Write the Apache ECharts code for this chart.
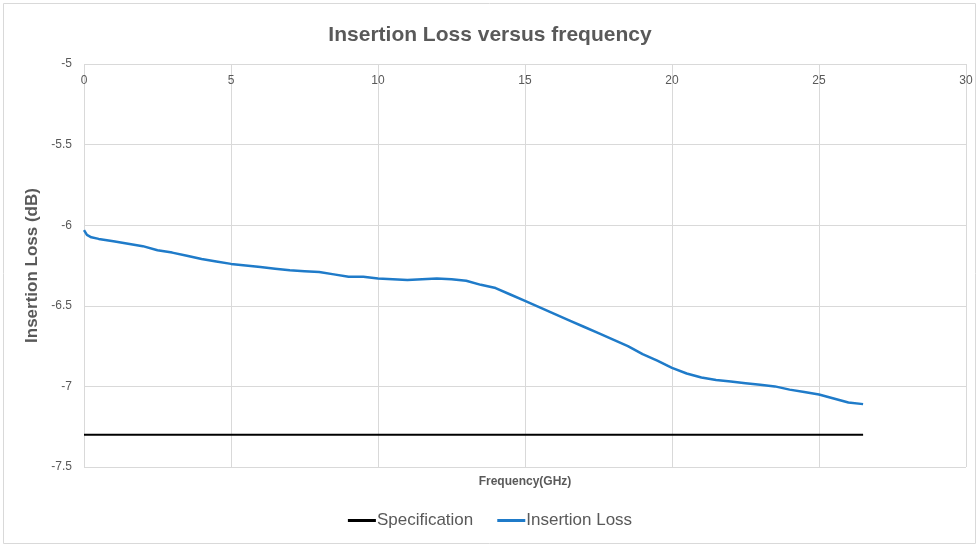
<!DOCTYPE html>
<html>
<head>
<meta charset="utf-8">
<script src="https://cdn.jsdelivr.net/npm/echarts@6/dist/echarts.min.js"></script>
<style>
  html, body { margin: 0; padding: 0; background: #fff; }
  #chart { width: 980px; height: 546px; }
</style>
</head>
<body>
<div id="chart"></div>
<script>
// frequency points (GHz) and measured insertion loss (dB)
var freq = [0, 0.1, 0.25, 0.5, 1, 1.5, 2, 2.5, 3, 3.5, 4, 4.5, 5, 5.5, 6, 6.5, 7, 7.5, 8, 8.5,
  9, 9.5, 10, 10.5, 11, 11.5, 12, 12.5, 13, 13.5, 14, 14.5, 15, 15.5, 16, 16.5, 17, 17.5,
  18, 18.5, 19, 19.5, 20, 20.5, 21, 21.5, 22, 22.5, 23, 23.5, 24, 24.5, 25, 25.5, 26, 26.5];
var insertionLoss = [-6.03, -6.06, -6.075, -6.085, -6.10, -6.115, -6.13, -6.155, -6.17, -6.19,
  -6.21, -6.225, -6.24, -6.25, -6.26, -6.27, -6.28, -6.285, -6.29, -6.305,
  -6.32, -6.32, -6.33, -6.335, -6.34, -6.335, -6.33, -6.335, -6.345, -6.37,
  -6.39, -6.43, -6.47, -6.51, -6.55, -6.59, -6.63, -6.67, -6.71, -6.75,
  -6.80, -6.84, -6.885, -6.92, -6.945, -6.96, -6.97, -6.98, -6.99, -7.00,
  -7.02, -7.035, -7.05, -7.075, -7.10, -7.11];
// specification limit
var specFreq = [0, 26.5];
var specValue = [-7.3, -7.3];

var lossData = freq.map(function (f, i) { return [f, insertionLoss[i]]; });
var specData = specFreq.map(function (f, i) { return [f, specValue[i]]; });

var txt = "#595959";
var gridColor = "#d9d9d9";
var font = "'Liberation Sans Narrow', 'Liberation Sans', sans-serif";

var chart = echarts.init(document.getElementById("chart"));
var option = {
  animation: false,
  graphic: [{
    type: "rect",
    shape: { x: 3.5, y: 3.5, width: 972, height: 540 },
    style: { fill: "none", stroke: "#d9d9d9", lineWidth: 1 }
  }],
  title: {
    text: "Insertion Loss versus frequency",
    left: "center",
    top: 20,
    textStyle: { color: txt, fontSize: 21, fontWeight: "bold", fontFamily: font }
  },
  legend: {
    bottom: 12,
    left: "center",
    itemGap: 24,
    itemWidth: 28,
    itemHeight: 3,
    icon: "rect",
    data: ["Specification", "Insertion Loss"],
    textStyle: { color: txt, fontSize: 17, fontFamily: font, padding: [0, 0, 0, -4] }
  },
  grid: { left: 84, right: 14, top: 64, bottom: 79 },
  xAxis: [
    {
      type: "value",
      position: "top",
      min: 0,
      max: 30,
      interval: 5,
      axisLine: { show: false },
      axisTick: { show: false },
      axisLabel: { inside: true, color: txt, fontSize: 12, fontFamily: font, margin: 11 },
      splitLine: { show: true, lineStyle: { color: gridColor, width: 1 } }
    },
    {
      type: "value",
      position: "bottom",
      min: 0,
      max: 30,
      name: "Frequency(GHz)",
      nameLocation: "middle",
      nameGap: 9,
      nameTextStyle: { color: txt, fontSize: 12, fontWeight: "bold", fontFamily: font },
      axisLine: { show: false },
      axisTick: { show: false },
      axisLabel: { show: false },
      splitLine: { show: false }
    }
  ],
  yAxis: {
    type: "value",
    min: -7.5,
    max: -5,
    interval: 0.5,
    name: "Insertion Loss (dB)",
    nameLocation: "middle",
    nameGap: 37,
    nameTextStyle: { color: txt, fontSize: 17, fontWeight: "bold", fontFamily: font },
    axisLine: { show: false },
    axisTick: { show: false },
    axisLabel: { color: txt, fontSize: 12, fontFamily: font, margin: 12 },
    splitLine: { show: true, lineStyle: { color: gridColor, width: 1 } }
  },
  series: [
    {
      name: "Specification",
      type: "line",
      data: specData,
      showSymbol: false,
      color: "#000000",
      lineStyle: { width: 2, color: "#000000" }
    },
    {
      name: "Insertion Loss",
      type: "line",
      data: lossData,
      showSymbol: false,
      color: "#1f7bc9",
      lineStyle: { width: 2.5, color: "#1f7bc9" }
    }
  ]
};
chart.setOption(option);
</script>
</body>
</html>
